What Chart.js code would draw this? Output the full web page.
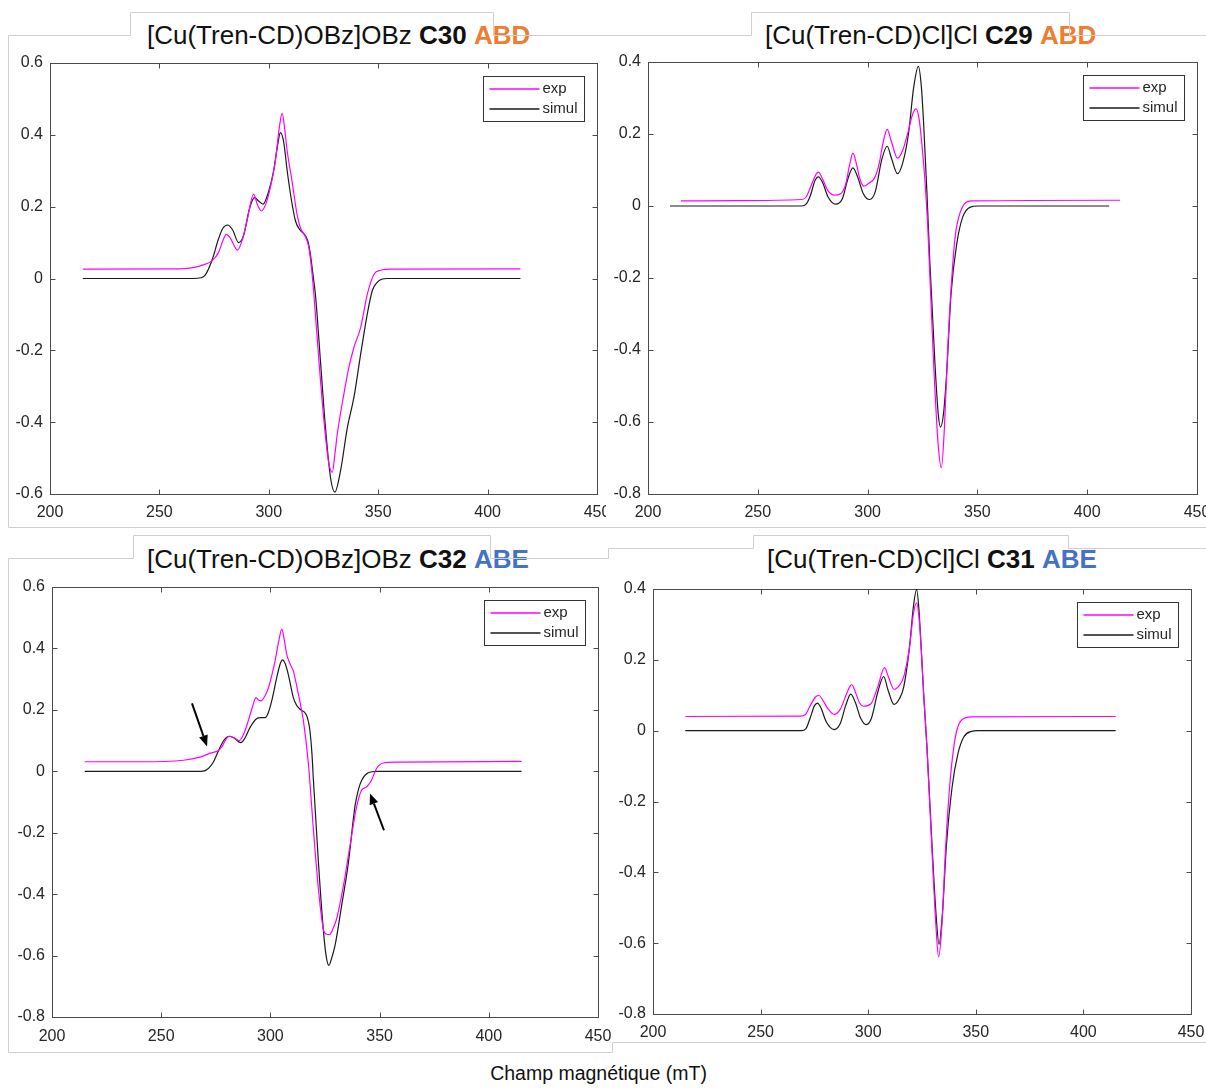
<!DOCTYPE html>
<html>
<head>
<meta charset="utf-8">
<script src="https://cdn.jsdelivr.net/npm/chart.js@4.4.1/dist/chart.umd.min.js"></script>
<style>
html,body{margin:0;padding:0;background:#fff;}
body{width:1206px;height:1088px;position:relative;overflow:hidden;font-family:"Liberation Sans",Arial,Helvetica,sans-serif;}
canvas{position:absolute;}
.title{position:absolute;font-size:26px;line-height:1;color:#111;white-space:nowrap;}
.title b{font-weight:bold;}
.or{color:#ED7D31;font-weight:bold;}
.bu{color:#4472C4;font-weight:bold;}
#frames{position:absolute;left:0;top:0;pointer-events:none;}
#xlabel{position:absolute;left:0;width:1197px;top:1064px;text-align:center;font-size:19.5px;line-height:1;color:#111;}
</style>
</head>
<body>
<div class="title" style="left:147px;top:22px;">[Cu(Tren-CD)OBz]OBz <b>C30</b> <span class="or">ABD</span></div>
<div class="title" style="left:765px;top:22px;">[Cu(Tren-CD)Cl]Cl <b>C29</b> <span class="or">ABD</span></div>
<div class="title" style="left:147px;top:546px;">[Cu(Tren-CD)OBz]OBz <b>C32</b> <span class="bu">ABE</span></div>
<div class="title" style="left:767px;top:546px;">[Cu(Tren-CD)Cl]Cl <b>C31</b> <span class="bu">ABE</span></div>
<div id="xlabel">Champ magnétique (mT)</div>

<canvas id="c30" width="606" height="490" style="left:0px;top:40px;"></canvas>
<canvas id="c29" width="600" height="490" style="left:606px;top:40px;"></canvas>
<canvas id="c32" width="612" height="490" style="left:0px;top:560px;"></canvas>
<canvas id="c31" width="594" height="490" style="left:612px;top:560px;"></canvas>

<svg id="frames" width="1206" height="1088">
<g fill="none" stroke="#cfcfcf" stroke-width="1">
<polyline points="8.5,527.5 8.5,35.5 130.5,35.5 130.5,12.5 493.5,12.5 493.5,35.5 751.5,35.5 751.5,12.5 1069.5,12.5 1069.5,35.5 1206,35.5"/>
<polyline points="8.5,527.5 1206,527.5"/>
<polyline points="8.5,1052.5 8.5,558.5 133.5,558.5 133.5,535.5 490.5,535.5 490.5,558.5 608.5,558.5 608.5,548.5 753.5,548.5 753.5,535.5 1068.5,535.5 1068.5,548.5 1206,548.5"/>
<polyline points="8.5,1052.5 612.5,1052.5 612.5,1042.5 1206,1042.5"/>
</g>
</svg>

<script>
// ---------- tick labels ----------
const xTickValues = [200, 250, 300, 350, 400, 450];
const seriesLabels = ['exp', 'simul'];
const seriesColors = ['#ff00ff', '#1a1a1a'];

// ---------- C30 (top-left) ----------
const c30_exp_field = [215,260,266,270,274,277,279,280.6,282.5,285.7,288,290,293.1,294.8,296.6,298.5,300,303,304.8,306.1,307.2,308.4,310.6,312.9,314.5,316,317.2,318.3,319.5,320.6,322.9,325.2,327.3,329,330.2,331.3,334.3,336.5,338.9,342,343.5,345,348.1,351.1,356,415];
const c30_exp = [0.026,0.027,0.031,0.038,0.049,0.072,0.105,0.123,0.112,0.079,0.11,0.16,0.235,0.205,0.188,0.205,0.235,0.327,0.42,0.46,0.42,0.355,0.272,0.179,0.14,0.125,0.11,0.086,0.03,-0.044,-0.229,-0.396,-0.51,-0.54,-0.49,-0.433,-0.322,-0.25,-0.192,-0.136,-0.09,-0.044,0.012,0.023,0.026,0.027];
const c30_sim_field = [215,265,269,271,274,277,279,281.2,283.5,286.2,288.5,291,293.4,295.5,297.4,300,302.2,304,305.3,306.8,308.4,310.3,312.2,314.3,316.3,317.8,319,320.2,321.3,323.6,325.9,328.2,330.2,332.8,335.9,338.9,342,345,347.3,350.4,354,415];
const c30_sim = [0,0,0.002,0.01,0.05,0.11,0.14,0.149,0.135,0.1,0.12,0.19,0.225,0.215,0.207,0.244,0.3,0.37,0.406,0.38,0.3,0.22,0.16,0.135,0.123,0.105,0.068,0.01,-0.044,-0.229,-0.415,-0.554,-0.595,-0.535,-0.415,-0.331,-0.21,-0.099,-0.034,-0.006,0,0];

// ---------- C29 (top-right) ----------
const c29_exp_field = [215,240,270,272,274.5,276.5,277.6,279.5,282,285,287.7,290,292,293.3,294.8,296.5,298.3,300.5,303,305,307.2,308.9,310.8,313.6,316,318.6,320.5,322.1,323.5,324.7,326,327.4,330,332.1,333.6,335,336.6,338.9,340.2,341.5,344.1,347.7,415];
const c29_exp = [0.014,0.015,0.018,0.025,0.06,0.088,0.094,0.075,0.042,0.03,0.034,0.06,0.12,0.147,0.12,0.075,0.055,0.063,0.076,0.11,0.18,0.213,0.18,0.133,0.155,0.21,0.255,0.27,0.24,0.173,0.08,-0.058,-0.429,-0.66,-0.727,-0.614,-0.382,-0.151,-0.07,-0.031,0.006,0.014,0.016];
const c29_sim_field = [210,270,272,274,276,277.6,279.5,282,285.4,288.5,291,293.3,295.5,298,300.9,303.5,306.5,308.9,311,313.6,316,318.6,321,323.1,324.5,325.6,327,328.3,330.6,332.2,333.2,334.5,335.9,338,340.6,343.3,346.8,350.3,410];
const c29_sim = [0,0,0.005,0.03,0.07,0.081,0.065,0.025,0.005,0.02,0.075,0.106,0.08,0.035,0.018,0.04,0.13,0.166,0.13,0.09,0.12,0.2,0.33,0.388,0.33,0.219,0.04,-0.151,-0.429,-0.58,-0.614,-0.58,-0.475,-0.244,-0.105,-0.031,-0.003,0,0];

// ---------- C32 (bottom-left) ----------
const c32_exp_field = [215,240,260.2,267.8,272.4,276.2,277.8,279.3,281.2,283.5,285.8,288,289.9,292,293.4,294.5,295.6,297.5,299.1,302.1,304,305.2,306.3,307.5,309,310.5,312.8,315.1,317.4,319.7,322,324.2,325.5,327,328.5,330.3,333.4,336.4,339.5,341.8,344,346.3,348.6,351.7,357.8,415];
const c32_exp = [0.031,0.031,0.036,0.046,0.059,0.068,0.08,0.1,0.114,0.108,0.1,0.125,0.165,0.215,0.24,0.232,0.229,0.245,0.272,0.358,0.43,0.463,0.43,0.38,0.35,0.326,0.251,0.165,0.025,-0.19,-0.384,-0.513,-0.53,-0.532,-0.515,-0.481,-0.374,-0.244,-0.115,-0.061,-0.051,-0.029,0.009,0.027,0.03,0.032];
const c32_sim_field = [215,268,270.1,272,273.9,275.8,277.7,279.5,281.2,283.5,286.4,288.5,290.7,293.8,295.5,297.6,299,300.6,302.9,304.5,305.6,306.8,308.2,310.5,312,313.6,316.3,317.3,318.1,319,319.7,322,324.2,325.5,326.8,328,329.6,332.6,335.7,338.7,340.3,341.8,344.8,348.6,415];
const c32_sim = [0,0,0.002,0.012,0.03,0.06,0.089,0.108,0.114,0.108,0.093,0.11,0.143,0.172,0.175,0.175,0.19,0.229,0.305,0.35,0.363,0.35,0.315,0.24,0.215,0.202,0.186,0.165,0.132,0.06,-0.029,-0.298,-0.513,-0.6,-0.632,-0.61,-0.567,-0.438,-0.298,-0.115,-0.06,-0.029,-0.005,0,0];
// arrow annotations (tail field, tail value, head field, head value)
const c32_arrows = [[264.1,0.221,271,0.081],[352,-0.192,345.6,-0.072]];

// ---------- C31 (bottom-right) ----------
const c31_exp_field = [215,268,270.7,273,275.5,277,279,281.5,284.2,287,290,292.3,294.3,296,297.7,301.3,304.5,307.6,309.5,312,314.5,316.5,319.2,321,322.5,323.6,324.6,325.8,327.3,329.7,331.5,332.7,334.2,336,338.1,340.5,343.5,348,415];
const c31_exp = [0.04,0.041,0.045,0.07,0.095,0.1,0.085,0.06,0.046,0.06,0.105,0.13,0.105,0.078,0.069,0.076,0.125,0.178,0.15,0.117,0.128,0.152,0.236,0.33,0.361,0.32,0.236,0.1,-0.046,-0.347,-0.554,-0.639,-0.554,-0.328,-0.14,-0.018,0.031,0.039,0.04];
const c31_sim_field = [215,268.9,271,273,275,276.4,278,280.5,284.2,287,289.5,291.9,294,296.5,299.1,301.5,304.5,307.2,309.2,312,314.5,316.5,319.2,321,322.5,323.6,324.6,325.8,327.3,329.7,331.5,332.9,334.5,336.3,339,341.7,344.4,348,351,415];
const c31_sim = [0,0,0.005,0.035,0.07,0.078,0.065,0.025,0.003,0.02,0.07,0.103,0.08,0.035,0.017,0.035,0.11,0.153,0.115,0.074,0.09,0.123,0.236,0.35,0.398,0.34,0.236,0.1,-0.046,-0.328,-0.516,-0.603,-0.516,-0.328,-0.159,-0.065,-0.018,-0.002,0,0];

// ---------- helpers ----------
const FONT = '"Liberation Sans", Arial, Helvetica, sans-serif';
const TXT = '#262626';
const AX = '#4a4a4a';
const arrowsById = { c32: c32_arrows };

function pts(xs, ys) { return xs.map((x, i) => ({ x: x, y: ys[i] })); }

const matlabPlugin = {
  id: 'matlabBox',
  beforeDatasetsDraw(chart) {
    const ctx = chart.ctx, a = chart.chartArea, xs = chart.scales.x, ys = chart.scales.y;
    ctx.save();
    ctx.strokeStyle = AX; ctx.lineWidth = 1;
    const L = Math.round(a.left) + 0.5, T = Math.round(a.top) + 0.5, R = Math.round(a.right) + 0.5, B = Math.round(a.bottom) + 0.5;
    ctx.strokeRect(L, T, R - L, B - T);
    ctx.beginPath();
    xs.ticks.forEach(t => {
      const p = Math.round(xs.getPixelForValue(t.value)) + 0.5;
      ctx.moveTo(p, B); ctx.lineTo(p, B - 5);
      ctx.moveTo(p, T); ctx.lineTo(p, T + 5);
    });
    ys.ticks.forEach(t => {
      const p = Math.round(ys.getPixelForValue(t.value)) + 0.5;
      ctx.moveTo(L, p); ctx.lineTo(L + 5, p);
      ctx.moveTo(R, p); ctx.lineTo(R - 5, p);
    });
    ctx.stroke();
    ctx.restore();
  },
  afterDatasetsDraw(chart) {
    const ctx = chart.ctx, a = chart.chartArea, xs = chart.scales.x, ys = chart.scales.y;
    const arr = arrowsById[chart.canvas.id] || [];
    ctx.save();
    arr.forEach(ar => {
      const x1 = xs.getPixelForValue(ar[0]), y1 = ys.getPixelForValue(ar[1]);
      const x2 = xs.getPixelForValue(ar[2]), y2 = ys.getPixelForValue(ar[3]);
      const ang = Math.atan2(y2 - y1, x2 - x1);
      const hl = 11, hw = 4.5;
      const bx = x2 - hl * Math.cos(ang), by = y2 - hl * Math.sin(ang);
      ctx.strokeStyle = '#000'; ctx.fillStyle = '#000'; ctx.lineWidth = 2;
      ctx.beginPath(); ctx.moveTo(x1, y1); ctx.lineTo(bx, by); ctx.stroke();
      ctx.beginPath();
      ctx.moveTo(x2, y2);
      ctx.lineTo(bx + hw * Math.sin(ang), by - hw * Math.cos(ang));
      ctx.lineTo(bx - hw * Math.sin(ang), by + hw * Math.cos(ang));
      ctx.closePath(); ctx.fill();
    });
    const w = 101, h = 45;
    const lx = Math.round(a.right - 13 - w) + 0.5, ly = Math.round(a.top + 13) + 0.5;
    ctx.fillStyle = '#fff'; ctx.fillRect(lx, ly, w, h);
    ctx.strokeStyle = '#333'; ctx.lineWidth = 1; ctx.strokeRect(lx, ly, w, h);
    ctx.font = '15px ' + FONT; ctx.textBaseline = 'middle'; ctx.textAlign = 'left';
    chart.data.datasets.forEach((ds, i) => {
      const yy = Math.round(ly + 12 + i * 20);
      ctx.strokeStyle = seriesColors[i]; ctx.lineWidth = 1.6;
      ctx.beginPath(); ctx.moveTo(lx + 6, yy); ctx.lineTo(lx + 56, yy); ctx.stroke();
      ctx.fillStyle = TXT; ctx.fillText(ds.label, lx + 59, yy);
    });
    ctx.restore();
  }
};

function makePanel(id, expX, expY, simX, simY, yMin, yMax, geo) {
  new Chart(document.getElementById(id), {
    type: 'line',
    data: {
      datasets: [
        { label: seriesLabels[0], data: pts(expX, expY), borderColor: seriesColors[0], borderWidth: 1.2, pointRadius: 0, cubicInterpolationMode: 'monotone', fill: false },
        { label: seriesLabels[1], data: pts(simX, simY), borderColor: seriesColors[1], borderWidth: 1.2, pointRadius: 0, cubicInterpolationMode: 'monotone', fill: false }
      ]
    },
    options: {
      responsive: false, animation: false, events: [],
      layout: { padding: { left: 0, top: geo.T, right: geo.R, bottom: 0 } },
      plugins: { legend: { display: false }, tooltip: { enabled: false }, title: { display: false } },
      scales: {
        x: {
          type: 'linear', min: xTickValues[0], max: xTickValues[xTickValues.length - 1],
          afterBuildTicks: s => { s.ticks = xTickValues.map(v => ({ value: v })); },
          ticks: { padding: geo.xp, color: TXT, font: { family: FONT, size: 16 }, maxRotation: 0, autoSkip: false, callback: v => String(v) },
          grid: { display: false, drawTicks: false }, border: { display: false },
          afterFit: s => { s.height = geo.H; s.paddingLeft = 0; s.paddingRight = 0; }
        },
        y: {
          type: 'linear', min: yMin, max: yMax,
          ticks: { stepSize: 0.2, padding: 7, color: TXT, font: { family: FONT, size: 16 },
            callback: v => { const r = Math.round(v * 10) / 10; return r === 0 ? '0' : String(r); } },
          grid: { display: false, drawTicks: false }, border: { display: false },
          afterFit: s => { s.width = geo.W; s.paddingTop = 0; s.paddingBottom = 0; }
        }
      }
    },
    plugins: [matlabPlugin]
  });
}

makePanel('c30', c30_exp_field, c30_exp, c30_sim_field, c30_sim, -0.6, 0.6, { W: 50, T: 23, R: 9, H: 36, xp: 9 });
makePanel('c29', c29_exp_field, c29_exp, c29_sim_field, c29_sim, -0.8, 0.4, { W: 42, T: 22, R: 9, H: 36, xp: 9 });
makePanel('c32', c32_exp_field, c32_exp, c32_sim_field, c32_sim, -0.8, 0.6, { W: 52, T: 27, R: 14, H: 33, xp: 10 });
makePanel('c31', c31_exp_field, c31_exp, c31_sim_field, c31_sim, -0.8, 0.4, { W: 41, T: 29, R: 15, H: 36, xp: 9 });
</script>
</body>
</html>
